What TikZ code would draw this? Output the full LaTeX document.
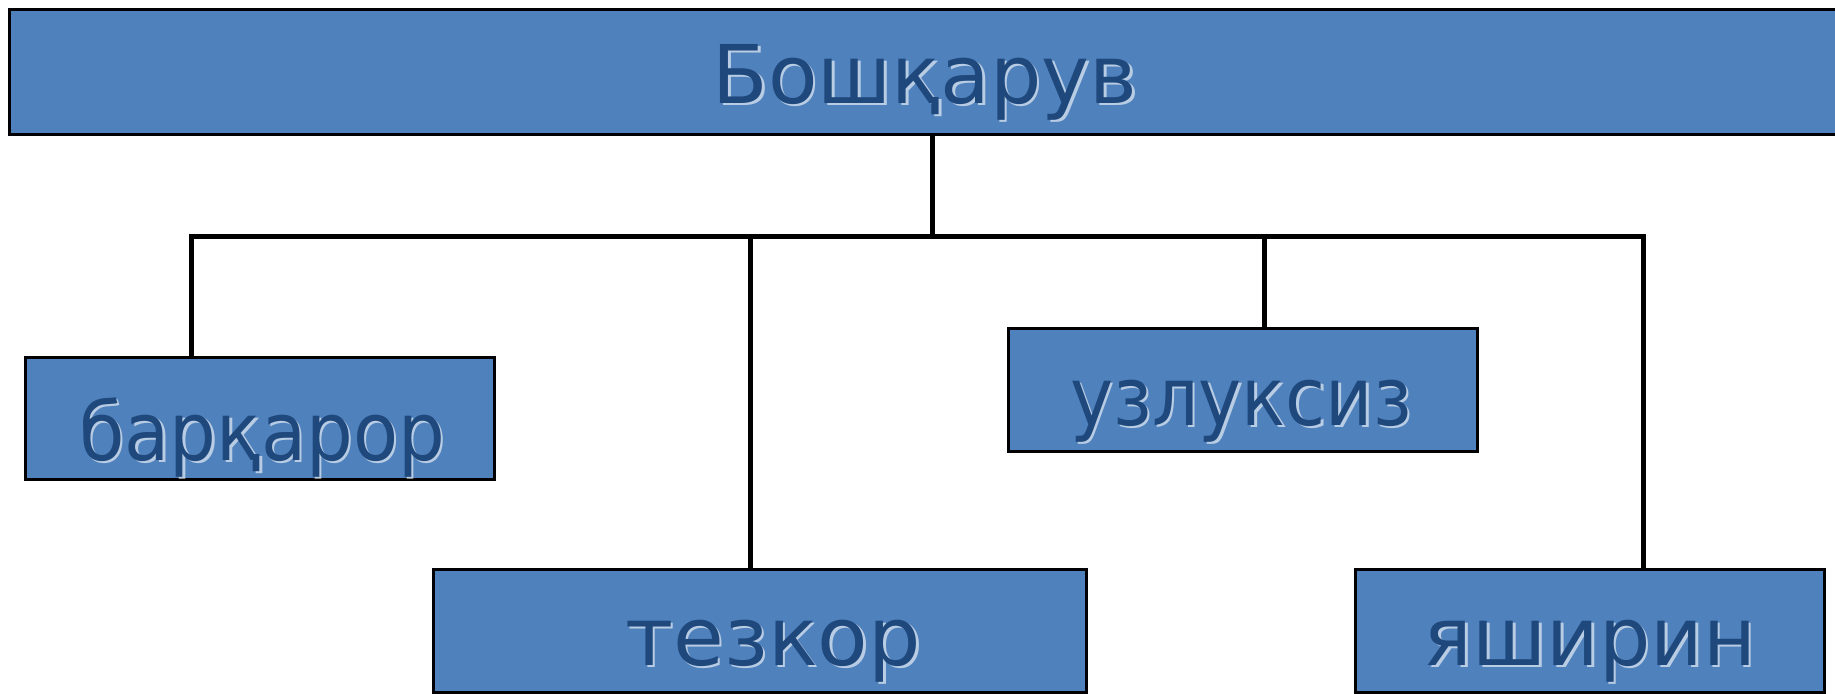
\documentclass[tikz,border=0pt]{standalone}
\usepackage{graphicx}
\usepackage{fontspec}
\setmainfont{DejaVu Sans}
\definecolor{boxfill}{HTML}{4F81BD}
\definecolor{txtblue}{HTML}{1F497D}
\tikzset{
  boxst/.style={rectangle, draw=black, fill=boxfill, line width=3pt, inner sep=0pt},
  lbl/.style={anchor=base, text=txtblue, inner sep=0pt, font=\fontsize{81}{81}\selectfont},
  shd/.style={anchor=base, text=white, opacity=0.6, inner sep=0pt, font=\fontsize{81}{81}\selectfont},
  conn/.style={draw=black, line width=5pt}
}
\begin{document}
\begin{tikzpicture}[x=1pt, y=-1pt]
\useasboundingbox (0,0) rectangle (1835,693);
% boxes
\node[boxst, minimum width=1836pt, minimum height=124pt] (top) at (927,72) {};
\node[boxst, minimum width=469pt, minimum height=122pt] (b1) at (259.5,418) {};
\node[boxst, minimum width=653pt, minimum height=123pt] (b2) at (759.5,630.5) {};
\node[boxst, minimum width=469pt, minimum height=123pt] (b3) at (1242.5,389.5) {};
\node[boxst, minimum width=469pt, minimum height=123pt] (b4) at (1589.5,630.5) {};
% labels with soft white shadow
\node[shd] (s0) at (927.5,105.5) {Бошқарув};
\node[lbl] (t0) at (925,103) {Бошқарув};
\node[shd] (s1) at (264.5,462.5) {\scalebox{0.91}[1]{барқарор}};
\node[lbl] (t1) at (262,460) {\scalebox{0.91}[1]{барқарор}};
\node[shd] (s2) at (775.5,667.5) {\scalebox{1.02}[1]{тезкор}};
\node[lbl] (t2) at (773,665) {\scalebox{1.02}[1]{тезкор}};
\node[shd] (s3) at (1243.5,427.5) {\scalebox{0.9}[1]{узлуксиз}};
\node[lbl] (t3) at (1241,425) {\scalebox{0.9}[1]{узлуксиз}};
\node[shd] (s4) at (1592.5,667.5) {яширин};
\node[lbl] (t4) at (1590,665) {яширин};
% connectors
\coordinate (j0) at (932,236);
\coordinate (jl) at (191,236);
\coordinate (j2) at (750,236);
\coordinate (j3) at (1264,236);
\coordinate (jr) at (1643,236);
\draw[conn] (top.south -| j0) -- (j0);
\draw[conn, line cap=rect] (jl) -- (jr);
\draw[conn] (jl) -- (jl |- b1.north);
\draw[conn] (j2) -- (j2 |- b2.north);
\draw[conn] (j3) -- (j3 |- b3.north);
\draw[conn] (jr) -- (jr |- b4.north);
\end{tikzpicture}
\end{document}
